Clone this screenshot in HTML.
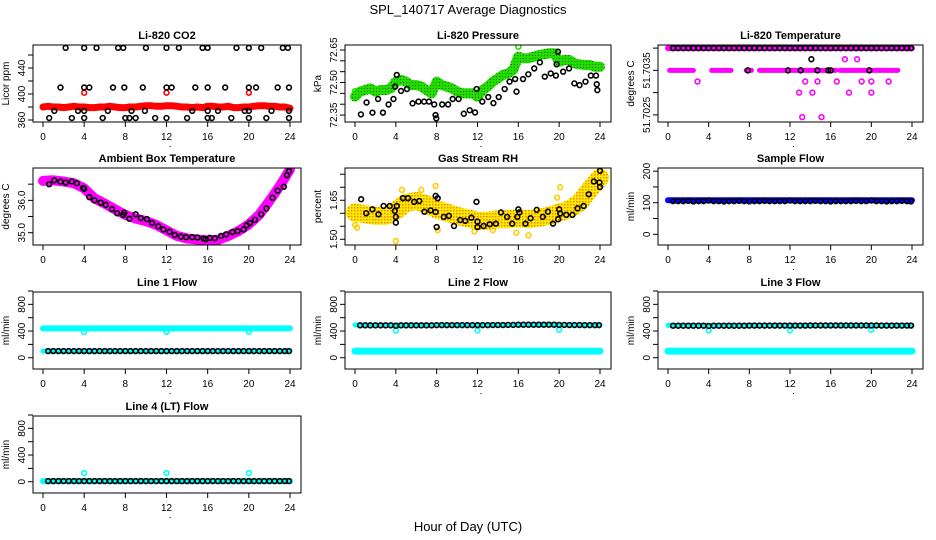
<!DOCTYPE html>
<html><head><meta charset="utf-8"><style>
html,body{margin:0;padding:0;background:#fff;}
svg{display:block;font-family:"Liberation Sans",sans-serif;}
</style></head><body>
<svg id="c" width="936" height="540" viewBox="0 0 936 540">
<defs>
<pattern id="rhpat" width="3" height="3" patternUnits="userSpaceOnUse"><rect width="3" height="3" fill="#ffee00"/><rect width="1.5" height="1.5" fill="#f08000"/></pattern>
<pattern id="grpat" width="3" height="3" patternUnits="userSpaceOnUse"><rect width="3" height="3" fill="#22dd00"/><rect x="1" y="1" width="1" height="1" fill="#116600"/></pattern>
</defs>
<text x="468" y="14" text-anchor="middle" font-size="13">SPL_140717  Average Diagnostics</text>
<text x="468" y="531" text-anchor="middle" font-size="13">Hour of Day (UTC)</text>
</svg>
<script>
// ---- shared hour grids ----
const H49 = [0,0.5,1,1.5,2,2.5,3,3.5,4,4.5,5,5.5,6,6.5,7,7.5,8,8.5,9,9.5,10,10.5,11,11.5,12,12.5,13,13.5,14,14.5,15,15.5,16,16.5,17,17.5,18,18.5,19,19.5,20,20.5,21,21.5,22,22.5,23,23.5,24];
const H48 = [0.5,1,1.5,2,2.5,3,3.5,4,4.5,5,5.5,6,6.5,7,7.5,8,8.5,9,9.5,10,10.5,11,11.5,12,12.5,13,13.5,14,14.5,15,15.5,16,16.5,17,17.5,18,18.5,19,19.5,20,20.5,21,21.5,22,22.5,23,23.5,23.9];
const xTicks = [0,4,8,12,16,20,24];
// ---- CO2 ----
const co2Red = [380,381,380,380,379,380,381,380,380,379,379,380,380,381,380,379,379,380,380,381,382,382,381,381,382,382,381,380,380,379,380,379,381,381,380,380,381,379,379,380,380,381,382,382,381,381,380,380,378];
const co2RedOutH = [4,12,20];
const co2RedOutV = [402,402,402];
const co2BlkH = [2.2,4,5.2,7.3,7.8,10,12,13.2,15.5,16,18.8,20,21.2,23.3,23.8, 1.7,4,4.5,6.8,7.9,9.7,12,12.5,14.8,16,17.7,20,20.7,22.8,23.9, 1.1,3.4,4,6.3,8.6,9.9,14.5,16,17,19.6,20,22.2,23.9, 0.6,2.8,4,5.8,8,8.4,9,10.9,12,14,16,16.4,18.3,20,21.7,23.9];
const co2BlkV = [471,471,471,471,471,471,471,471,471,471,471,471,471,471,471, 410,410,410,410,410,410,410,410,410,410,410,410,410,410,410, 374,374,374,374,374,374,374,374,374,374,374,374,374, 363,363,363,363,363,363,363,363,363,363,363,363,363,363,363,363];
// ---- Pressure ----
const presGreen = [72.435,72.458,72.465,72.473,72.458,72.465,72.465,72.473,72.504,72.512,72.504,72.488,72.488,72.481,72.465,72.45,72.504,72.488,72.481,72.473,72.458,72.45,72.45,72.45,72.435,72.465,72.481,72.504,72.519,72.535,72.542,72.558,72.619,72.612,72.612,72.619,72.627,72.63,72.635,72.635,72.596,72.604,72.604,72.588,72.584,72.581,72.581,72.573,72.573];
const presBlkH = [0.58,1.13,1.71,2.26,2.74,3.29,3.77,3.93,4.09,4.51,5.09,5.64,6.22,6.77,7.25,7.76,7.89,7.96,8.54,9.12,9.57,10.15,10.66,11.24,11.76,11.92,12.47,13.05,13.56,14.08,14.66,15.14,15.69,15.82,16.46,16.98,17.56,18.11,18.59,19.17,19.68,19.75,19.88,20.39,20.97,21.49,22.0,22.58,23.1,23.61,23.68,23.74];
const presBlkV = [72.353,72.408,72.361,72.424,72.361,72.399,72.424,72.481,72.535,72.461,72.470,72.404,72.412,72.412,72.412,72.399,72.35,72.335,72.399,72.399,72.424,72.424,72.356,72.372,72.362,72.47,72.412,72.433,72.405,72.433,72.47,72.504,72.516,72.458,72.516,72.538,72.565,72.593,72.527,72.542,72.532,72.584,72.642,72.55,72.565,72.496,72.488,72.504,72.532,72.532,72.492,72.465];
// ---- Temperature ----
const tempTopLevel = 51.7040;
const tempSegStart = [0.16,4.3,7.7,9.0,16.9];
const tempSegEnd = [2.5,6.2,8.2,16.5,22.6];
const tempSegLevel = 51.7035;
const tempMagH = [2.9,17.4,18.6,13.5,14.7,16.6,19.05,20.0,21.7,12.9,14.2,17.8,20.0,13.2,15.1];
const tempMagV = [51.70325,51.70375,51.70375,51.70325,51.70325,51.70325,51.70325,51.70325,51.70325,51.7030,51.7030,51.7030,51.7030,51.70245,51.70245];
const tempBlkH = [7.85,11.8,13.05,14.7,15.75,16.0,19.8,14.1];
const tempBlkV = [51.7035,51.7035,51.7035,51.7035,51.7035,51.7035,51.7035,51.70375];
// ---- Ambient ----
const ambH = [0,1,2,3,4,5,6,7,8,9,10,11,12,13,14,15,16,17,18,19,20,21,22,23,23.5,24];
const ambMag = [36.60,36.62,36.58,36.53,36.37,36.06,35.90,35.72,35.55,35.44,35.36,35.24,35.07,34.90,34.82,34.79,34.76,34.78,34.90,35.05,35.26,35.55,35.98,36.44,36.70,36.96];
const ambBlkH = [0.6,1.1,1.7,2.2,2.8,3.3,3.9,4.0,4.5,5.0,5.6,6.1,6.7,7.2,7.8,7.9,8.4,9.0,9.5,10.1,10.6,11.2,11.7,12.3,12.8,13.4,13.9,14.5,15.0,15.6,15.8,16.2,16.7,17.3,17.8,18.4,18.9,19.5,19.8,20.1,20.6,21.2,21.7,22.3,22.8,23.4,23.7,23.9];
const ambBlkV = [36.50,36.62,36.58,36.55,36.58,36.53,36.38,36.36,36.10,36.0,35.93,35.86,35.73,35.60,35.55,35.62,35.43,35.57,35.45,35.42,35.30,35.20,35.10,35.03,34.93,34.88,34.86,34.86,34.85,34.82,34.80,34.84,34.83,34.90,34.95,35.02,35.05,35.10,35.23,35.30,35.40,35.57,35.75,36.08,36.30,36.42,36.78,36.90];
// ---- RH ----
const rhH = [0,1,2,3,4,5,6,7,8,9,10,11,12,13,14,15,16,17,18,19,20,21,22,23,24];
const rhBand = [1.603,1.596,1.59,1.59,1.609,1.641,1.647,1.635,1.615,1.603,1.59,1.581,1.571,1.571,1.577,1.577,1.581,1.577,1.583,1.59,1.603,1.615,1.641,1.692,1.737];
const rhBlkH = [0.6,1.1,1.7,2.3,2.8,3.4,3.9,4.0,4.0,4.1,4.7,5.2,5.8,6.3,6.8,7.4,7.9,7.9,8.0,8.1,8.7,9.2,9.7,10.3,10.8,11.4,11.9,12.0,12.0,12.6,13.2,13.8,14.3,14.9,15.4,15.9,16.0,16.1,16.7,17.2,17.8,18.4,18.9,19.4,19.9,20.0,20.1,20.7,21.3,21.8,22.4,22.9,23.4,24.0,23.95,24.0];
const rhBlkV = [1.654,1.600,1.615,1.596,1.628,1.628,1.609,1.586,1.564,1.628,1.658,1.658,1.644,1.647,1.606,1.611,1.605,1.667,1.547,1.658,1.586,1.590,1.551,1.574,1.571,1.583,1.644,1.568,1.547,1.551,1.558,1.560,1.603,1.586,1.560,1.586,1.615,1.603,1.560,1.581,1.613,1.586,1.606,1.560,1.577,1.615,1.599,1.594,1.594,1.619,1.628,1.673,1.722,1.763,1.718,1.701];
const rhYelH = [0,0.2,4,4.6,6.5,7.9,8.1,11.7,13.5,15.8,17,19.8,20.1];
const rhYelV = [1.555,1.545,1.493,1.69,1.69,1.705,1.535,1.53,1.535,1.525,1.515,1.66,1.70];
// ---- Flows ----
const sampleBlue = 108;
const sampleBlk = [105,105,105,106,104,105,105,107,105,105,104,105,105,106,105,104,105,105,106,105,105,105,105,107,105,105,105,105,106,105,105,104,105,105,105,105,106,105,105,107,105,105,104,105,105,106,105,104];
const line1Cyan = 440, line1CyanLow = 100;
const line1Blk = [100,100,100,100,100,100,100,100,100,100,100,100,100,100,100,100,100,100,100,100,100,100,100,100,100,100,100,100,100,100,100,100,100,100,100,100,100,100,100,100,100,100,100,100,100,100,100,100];
const line2Blk = [485,485,485,485,485,485,485,480,485,485,485,485,485,485,485,488,488,488,488,488,488,488,488,488,488,488,490,490,490,492,492,495,495,495,495,495,495,495,495,492,492,490,490,490,488,488,488,488];
const line3Blk = [480,480,480,480,480,480,480,476,480,480,480,480,480,480,480,482,482,482,482,482,482,482,482,482,482,482,482,484,484,484,484,484,484,484,484,484,484,484,484,484,484,482,482,482,482,482,482,482];
const line4Blk = [10,10,10,10,10,10,10,10,10,10,10,10,10,10,10,10,10,10,10,10,10,10,10,10,10,10,10,10,10,10,10,10,10,10,10,10,10,10,10,10,10,10,10,10,10,10,10,10];
const spikeH = [4,12,20];
const line1Spike = [385,390,390];
const line2Spike = [410,410,420];
const line3Spike = [410,410,420];
const line4Spike = [130,130,130];
const line2CyanHigh = 490, line2CyanLow = 100, line3CyanHigh = 485, line3CyanLow = 100, line4Cyan = 10;

const svg = document.getElementById('c');
const NS = 'http://www.w3.org/2000/svg';
const X0 = [43,355,668], X24 = [290,600,912];
const TOP = [45,168,292,416], PH = 77;
function mk(tag, attrs, parent){const e=document.createElementNS(NS,tag);for(const k in attrs)e.setAttribute(k,attrs[k]);(parent||svg).appendChild(e);return e;}

function panel(name, col, row, dmin, dmax, yTicks, yLabels, title, ylab){
  const g = mk('g',{});
  
  
  const left = X0[col]-10, right = X24[col]+11, top = TOP[row], bot = top+PH;
  const p = {g, col, top, bot, left, right,
    x: h => X0[col] + h*(X24[col]-X0[col])/24,
    y: v => top + (dmax - v)/(dmax-dmin)*PH};
  const t = mk('text',{x:(left+right)/2,y:top-6,'text-anchor':'middle','font-size':11,'font-weight':'bold'},g);
  t.textContent = title;
  
  
  const yl = mk('text',{transform:`translate(${left-24},${(top+bot)/2}) rotate(-90)`,'text-anchor':'middle','font-size':10},g);
  yl.textContent = ylab;
  
  
  // x axis
  const xa = mk('g',{},g);
  
  
  xTicks.forEach(h=>{
    const xx = p.x(h);
    mk('line',{x1:xx,x2:xx,y1:bot,y2:bot+5,stroke:'#000'},xa);
    const tl = mk('text',{x:xx,y:bot+18,'text-anchor':'middle','font-size':10},xa);
    tl.textContent = h;
  });
  mk('rect',{x:p.x(12.3),y:bot+24,width:1,height:1,fill:'#000'},xa);
  // y axis
  const ya = mk('g',{},g);
  
  
  yTicks.forEach((v,i)=>{
    const yy = p.y(v);
    mk('line',{x1:left-5,x2:left,y1:yy,y2:yy,stroke:'#000'},ya);
    if(yLabels[i]){
      const tl = mk('text',{transform:`translate(${left-8},${yy}) rotate(-90)`,'text-anchor':'middle','font-size':10},ya);
      tl.textContent = yLabels[i];
    }
  });
  p.plot = mk('g',{},g);
  
  
  const cp = mk('clipPath',{id:'cp'+name},g);
  mk('rect',{x:left,y:top,width:right-left,height:PH},cp);
  p.plot.setAttribute('clip-path','url(#cp'+name+')');
  const box = mk('rect',{x:left,y:top,width:right-left,height:PH,fill:'none',stroke:'#000','stroke-width':1},g);
  
  
  return p;
}
function band(p, hs, vs, color, w, nm){
  const pts = hs.map((h,i)=>p.x(h).toFixed(1)+','+p.y(vs[i]).toFixed(1)).join(' ');
  const e = mk('polyline',{points:pts,fill:'none',stroke:color,'stroke-width':w,'stroke-linejoin':'round','stroke-linecap':'round'},p.plot);
  
  
}
function pts(p, hs, vs, color, nm, r){
  const g = mk('g',{},p.plot);
  
  
  hs.forEach((h,i)=>{
    const c = mk('circle',{cx:p.x(h),cy:p.y(vs[i]),r:r||2.4,fill:'none',stroke:color,'stroke-width':1.6},g);
    
    
  });
}
function rep(v,n){return H49.slice(0,n).map(()=>v);}

// CO2
let p = panel('co2',0,0,356.9,475.4,[360,380,400,420,440,460],['360','','400','','440',''],'Li-820 CO2','Licor ppm');
band(p,H49,co2Red,'#ff0000',7,'co2-red-series');
pts(p,co2RedOutH,co2RedOutV,'#ff0000','co2-red-outliers');
pts(p,co2BlkH,co2BlkV,'#000','co2-black-series');

// Pressure
p = panel('pressure',1,0,72.318,72.673,[72.35,72.40,72.45,72.50,72.55,72.60,72.65],['72.35','','','72.50','','','72.65'],'Li-820 Pressure','kPa');
band(p,H49,presGreen,'url(#grpat)',10,'pressure-green-series');
pts(p,[0,16],[72.46,72.665],'#22dd00','pressure-green-outliers');
pts(p,presBlkH,presBlkV,'#000','pressure-black-series');

// Temperature
p = panel('temperature',2,0,51.70234,51.70407,[51.7025,51.7030,51.7035,51.7040],['51.7025','','51.7035',''],'Li-820 Temperature','degrees C');
band(p,[0,24],[tempTopLevel,tempTopLevel],'#ff00ff',6,'temperature-magenta-top');
tempSegStart.forEach((s,i)=>band(p,[s,tempSegEnd[i]],[tempSegLevel,tempSegLevel],'#ff00ff',5,'temperature-magenta-segment'));
pts(p,tempMagH,tempMagV,'#ff00ff','temperature-magenta-outliers');
pts(p,H48,rep(tempTopLevel,48),'#000','temperature-black-top');
pts(p,tempBlkH,tempBlkV,'#000','temperature-black-series');

// Ambient
p = panel('ambient',0,1,34.62,37.0,[35.0,35.5,36.0,36.5],['35.0','','36.0',''],'Ambient Box Temperature','degrees C');
band(p,ambH,ambMag,'#ff00ff',10,'ambient-magenta-series');
pts(p,ambBlkH,ambBlkV,'#000','ambient-black-series');

// RH
p = panel('rh',1,1,1.478,1.774,[1.50,1.55,1.60,1.65,1.70,1.75],['1.50','','','1.65','',''],'Gas Stream RH','percent');
band(p,rhH,rhBand,'url(#rhpat)',18,'rh-yellow-series');
pts(p,rhYelH,rhYelV,'#ffcc00','rh-yellow-outliers');
pts(p,rhBlkH,rhBlkV,'#000','rh-black-series');

// Sample flow
p = panel('sample-flow',2,1,-33.9,210,[0,50,100,150,200],['0','','100','','200'],'Sample Flow','ml/min');
band(p,[0,24],[sampleBlue,sampleBlue],'#0000ff',6,'sample-flow-blue-series');
pts(p,H48,sampleBlk,'#000','sample-flow-black-series');

const fT=[0,200,400,600,800,1000], fL=['0','','400','','800',''];
const fmin=-169, fmax=985;
// Line 1
p = panel('line1-flow',0,2,fmin,fmax,fT,fL,'Line 1 Flow','ml/min');
band(p,[0,24],[line1Cyan,line1Cyan],'#00ffff',6,'line1-cyan-series');
band(p,[0,24],[line1CyanLow,line1CyanLow],'#00ffff',5,'line1-cyan-low-series');
pts(p,spikeH,line1Spike,'#00ffff','line1-cyan-spikes');
pts(p,H48,line1Blk,'#000','line1-black-series');
// Line 2
p = panel('line2-flow',1,2,fmin,fmax,fT,fL,'Line 2 Flow','ml/min');
band(p,[0,24],[line2CyanHigh,line2CyanHigh],'#00ffff',5,'line2-cyan-high-series');
band(p,[0,24],[line2CyanLow,line2CyanLow],'#00ffff',7,'line2-cyan-low-series');
pts(p,spikeH,line2Spike,'#00ffff','line2-cyan-spikes');
pts(p,H48,line2Blk,'#000','line2-black-series');
// Line 3
p = panel('line3-flow',2,2,fmin,fmax,fT,fL,'Line 3 Flow','ml/min');
band(p,[0,24],[line3CyanHigh,line3CyanHigh],'#00ffff',5,'line3-cyan-high-series');
band(p,[0,24],[line3CyanLow,line3CyanLow],'#00ffff',7,'line3-cyan-low-series');
pts(p,spikeH,line3Spike,'#00ffff','line3-cyan-spikes');
pts(p,H48,line3Blk,'#000','line3-black-series');
// Line 4
p = panel('line4-flow',0,3,fmin,fmax,fT,fL,'Line 4 (LT) Flow','ml/min');
band(p,[0,24],[line4Cyan,line4Cyan],'#00ffff',6,'line4-cyan-series');
pts(p,spikeH,line4Spike,'#00ffff','line4-cyan-spikes');
pts(p,H48,line4Blk,'#000','line4-black-series');
</script>
</body></html>
